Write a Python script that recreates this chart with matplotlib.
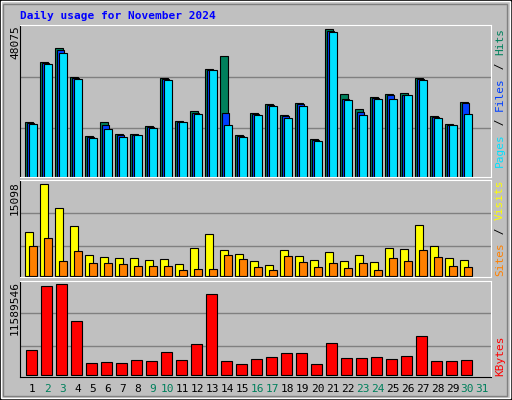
import matplotlib
matplotlib.use("Agg")
import matplotlib.pyplot as plt
from matplotlib.patches import Rectangle
import numpy as np

days = list(range(1, 31))
weekend = [2, 3, 9, 10, 16, 17, 23, 24, 30, 31]
hits = [18056, 37308, 41876, 32413, 13487, 18056, 14140, 14140, 16751, 32087, 18382, 21645, 35024, 39266, 13814,
        20993, 23603, 20340, 23929, 12509, 48075, 26866, 21972, 25887, 26866, 27193, 32087, 20014, 17403, 24256]
files = [17730, 36982, 41224, 32087, 13161, 17077, 13814, 13814, 16424, 31761, 18056, 20993, 34698, 20993, 13487,
         20666, 23277, 20014, 23603, 12182, 47424, 25235, 21319, 25561, 26540, 26540, 31761, 19687, 17077, 23929]
pages = [17403, 36656, 40245, 31761, 12835, 15772, 13161, 13814, 16098, 31435, 18056, 20666, 34698, 17077, 13161,
         20340, 22950, 19361, 22950, 11856, 47097, 24908, 20340, 25235, 25235, 26540, 31435, 19361, 17077, 20666]
visits = [7221, 15098, 11159, 8205, 3446, 3118, 2954, 2954, 2626, 2790, 1969, 4595, 6892, 4267, 3610,
          2462, 1805, 4267, 3282, 2626, 3938, 2462, 3446, 2297, 4595, 4431, 8369, 4923, 2954, 2626]
sites = [4923, 6236, 2462, 4103, 2133, 2133, 1969, 1641, 1641, 1641, 985, 1149, 1149, 3446, 2790,
         1477, 985, 3282, 2297, 1477, 2133, 1313, 2133, 985, 2954, 2462, 4267, 3118, 1641, 1477]
kbytes = [3203000, 11295000, 11589546, 6869000, 1559000, 1686000, 1559000, 1939000, 1812000, 2950000,
          1939000, 3962000, 10283000, 1812000, 1433000, 2065000, 2318000, 2824000, 2824000, 1433000,
          4088000, 2191000, 2191000, 2318000, 2065000, 2444000, 4973000, 1812000, 1812000, 1939000]

BG = "#C0C0C0"
W, H = 512, 400
fig = plt.figure(figsize=(5.12, 4.0), dpi=100, facecolor=BG)
MONO = "DejaVu Sans Mono"

def ax_px(l, t, r, b):
    return fig.add_axes([l / W, 1 - b / H, (r - l) / W, (b - t) / H])

x = np.array(days, dtype=float)
XL = (0.287, 31.67)

def style(ax, ylim, grids):
    ax.set_facecolor(BG)
    ax.set_xlim(*XL)
    ax.set_ylim(*ylim)
    for g in grids:
        ax.axhline(g, color="#808080", lw=1, zorder=0)
    ax.set_xticks([]); ax.set_yticks([])
    for s in ["top", "right", "bottom"]:
        ax.spines[s].set_color("white")
    ax.spines["left"].set_color("black")

ax1 = ax_px(20.3, 24.7, 491, 177)
style(ax1, (0, 49575), [16112, 32615])
kw = dict(align="edge", edgecolor="black", linewidth=0.8)
ax1.bar(x - 0.38, hits, 0.5, color="#00805C", **kw)
ax1.bar(x - 0.27, files, 0.5, color="#0040FF", **kw)
ax1.bar(x - 0.16, pages, 0.53, color="#00E0FF", **kw)

ax2 = ax_px(20.3, 180.3, 491, 277)
style(ax2, (-109, 15754), [4923, 10338])
ax2.bar(x - 0.38, visits, 0.53, color="#FFFF00", **kw)
ax2.bar(x - 0.11, sites, 0.49, color="#FF8000", **kw)

ax3 = ax_px(20.3, 280.7, 491, 377)
style(ax3, (-252864, 12011000), [3710000, 7880000])
ax3.bar(x - 0.31, kbytes, 0.69, color="#FF0000", **kw)
ax3.spines["bottom"].set_color("black")

# day labels
for d in range(1, 32):
    xf = (20.3 + (d - XL[0]) / (XL[1] - XL[0]) * (491 - 20.3)) / W
    fig.text(xf + 1.5 / W, 1 - 389 / H, str(d), ha="center", va="center", fontsize=8, family=MONO,
             color="#00805C" if d in weekend else "black")

fig.text(20 / W, 1 - 16 / H, "Daily usage for November 2024", color="#0000FF", fontsize=8,
         fontweight="bold", family=MONO, va="center", ha="left")

for val, top in [("48075", 25), ("15098", 181), ("11589546", 281)]:
    fig.text(15 / W, 1 - top / H, val, rotation=90, rotation_mode="anchor", ha="right", va="center",
             fontsize=8, family=MONO)

def vlabel(segs, bottom):
    ch = 7.0
    i = 0
    for s, c in segs:
        fig.text(500 / W, 1 - (bottom - i * ch) / H, s, rotation=90, rotation_mode="anchor",
                 ha="left", va="center", fontsize=8, family=MONO, color=c)
        i += len(s)

vlabel([("Pages", "#00E0FF"), (" / ", "black"), ("Files", "#0040FF"), (" / ", "black"), ("Hits", "#00805C")], 167)
vlabel([("Sites", "#FF8000"), (" / ", "black"), ("Visits", "#FFFF00")], 276)
vlabel([("KBytes", "#FF0000")], 376)

# bevel border
fig.patches.append(Rectangle((0, 0), 1, 1, transform=fig.transFigure, fill=False, edgecolor="black", lw=2))
fig.patches.append(Rectangle((1 / W, 2 / H), 1 - 3 / W, 1 - 3 / H, transform=fig.transFigure, fill=False,
                             edgecolor="white", lw=1))
fig.patches.append(Rectangle((3 / W, 4 / H), 1 - 8 / W, 1 - 8 / H, transform=fig.transFigure, fill=False,
                             edgecolor="#808080", lw=1))

fig.savefig("out.png", dpi=100, facecolor=BG)
